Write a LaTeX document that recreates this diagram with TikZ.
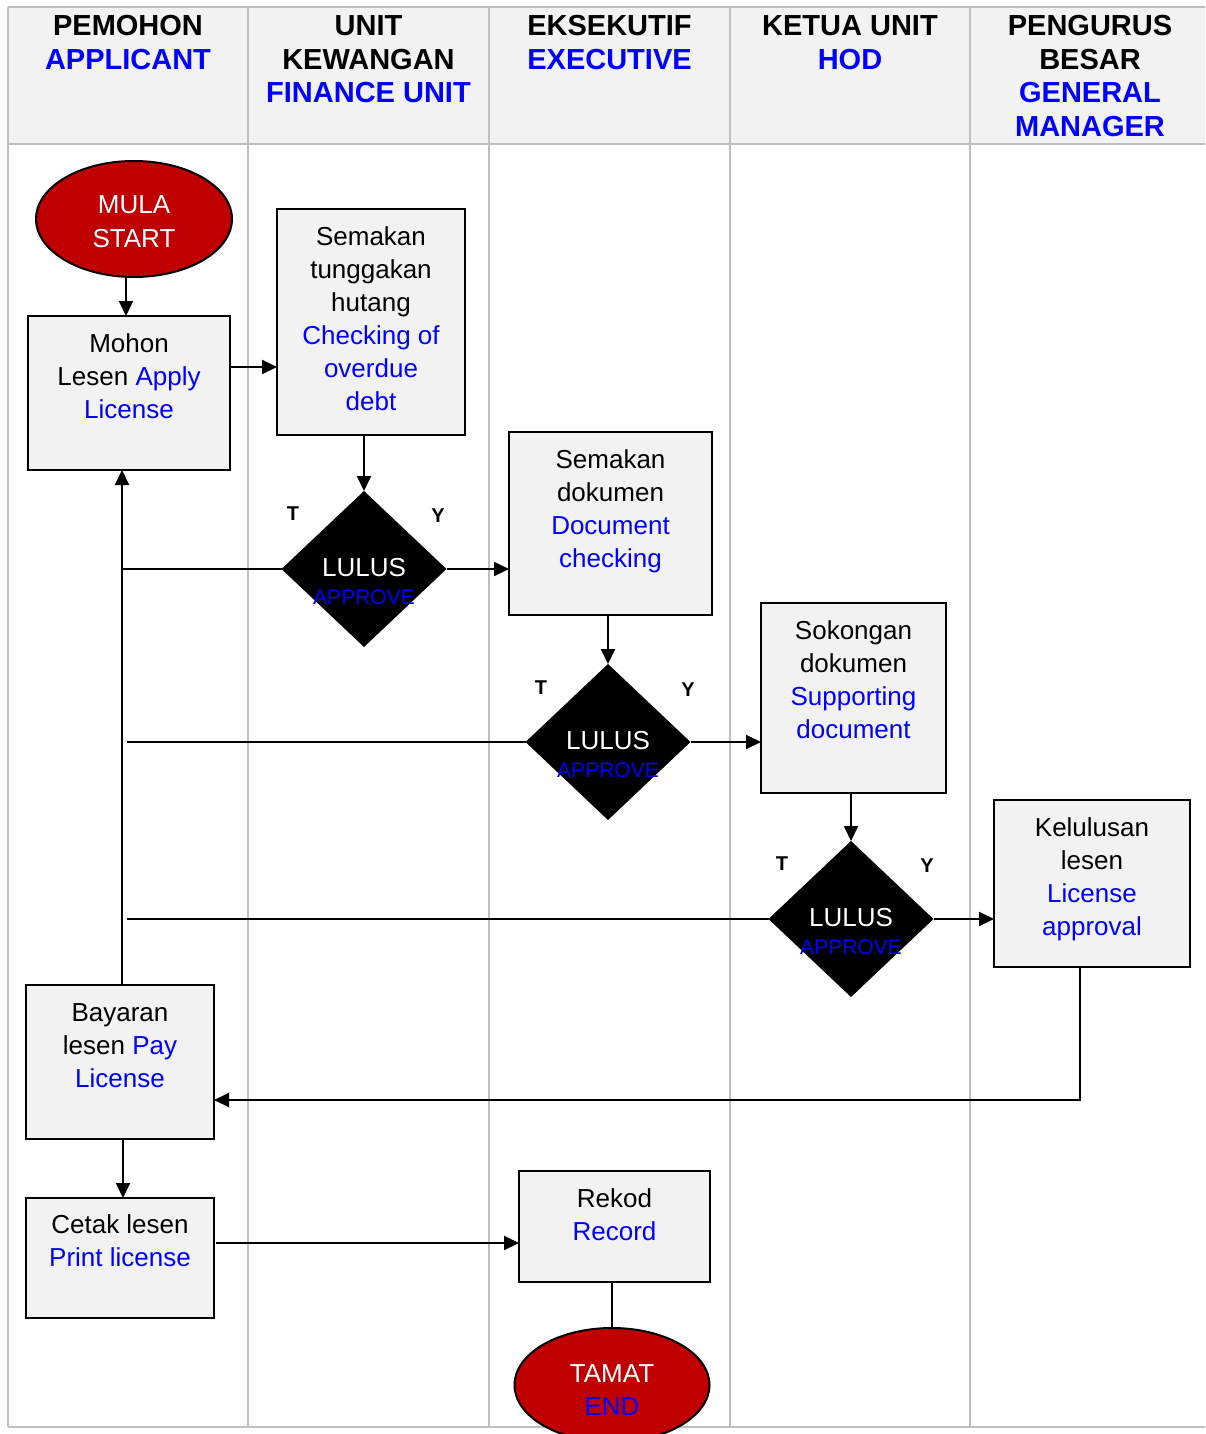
\documentclass[tikz,border=0pt]{standalone}
\usepackage{fontspec}
\setmainfont{Liberation Sans}
\usetikzlibrary{shapes.geometric,arrows.meta}
\definecolor{myblue}{RGB}{0,0,255}
\definecolor{headgray}{RGB}{242,242,242}
\definecolor{gridgray}{RGB}{191,191,191}
\definecolor{boxgray}{RGB}{242,242,242}
\definecolor{termred}{RGB}{192,0,0}
\newcommand{\mylines}[1]{\begin{tabular}[t]{@{}c@{}}#1\end{tabular}}
\newcommand{\bl}[1]{\textcolor{myblue}{#1}}
\begin{document}
\begin{tikzpicture}[x=1pt,y=-1pt,
  grid/.style={draw=gridgray,line width=2pt},
  box/.style={draw=black,line width=1.8pt,fill=boxgray,rectangle,inner sep=0pt,outer sep=0pt},
  txt/.style={anchor=base,inner sep=0pt,font=\fontsize{26}{33}\selectfont},
  head/.style={anchor=base,inner sep=0pt,font=\bfseries\fontsize{29}{33.5}\selectfont},
  dia/.style={diamond,fill=black,inner sep=0pt,outer sep=0pt,minimum width=165pt,minimum height=156pt},
  diatxt/.style={anchor=base,inner sep=0pt,font=\fontsize{26}{28}\selectfont,text=white},
  term/.style={ellipse,draw=black,line width=2pt,fill=termred,inner sep=0pt,outer sep=0pt},
  termtxt/.style={anchor=base,inner sep=0pt,font=\fontsize{26}{33}\selectfont,text=white},
  tytxt/.style={inner sep=0pt,font=\bfseries\fontsize{20}{24}\selectfont},
  arr/.style={line width=2pt,-{Triangle[length=15pt,width=14pt]}},
  ln/.style={line width=2pt}]
\useasboundingbox (0,0) rectangle (1205,1434);
\clip (0,0) rectangle (1205,1434);
% table
\fill[headgray] (8,7) rectangle (1212,144);
\draw[grid] (8,7) -- (1212,7);
\draw[grid] (8,144) -- (1212,144);
\draw[grid] (8,1427) -- (1212,1427);
\foreach \xx in {8,248,489,730,970} {\draw[grid] (\xx,7) -- (\xx,1427);}
% headers
\node[head] (h1) at (128,36) {\mylines{PEMOHON\\\bl{APPLICANT}}};
\node[head] (h2) at (368.5,36) {\mylines{UNIT\\KEWANGAN\\\bl{FINANCE UNIT}}};
\node[head] (h3) at (609.5,36) {\mylines{EKSEKUTIF\\\bl{EXECUTIVE}}};
\node[head] (h4) at (850,36) {\mylines{KETUA UNIT\\\bl{HOD}}};
\node[head] (h5) at (1090,36) {\mylines{PENGURUS\\BESAR\\\bl{GENERAL}\\\bl{MANAGER}}};
% start
\node[term,minimum width=196pt,minimum height=116pt] (start) at (134,219) {};
\node[termtxt] (starttxt) at ([yshift=5pt]start.center) {\mylines{MULA\\START}};
% boxes
\node[box,minimum width=202pt,minimum height=154pt] (mohon) at (129,393) {};
\node[txt] (mohontxt) at ([yshift=-36pt]mohon.north) {\mylines{Mohon\\Lesen \bl{Apply}\\\bl{License}}};
\node[box,minimum width=188pt,minimum height=226pt] (semak) at (371,322) {};
\node[txt] (semaktxt) at ([yshift=-36pt]semak.north) {\mylines{Semakan\\tunggakan\\hutang\\\bl{Checking of}\\\bl{overdue}\\\bl{debt}}};
\node[box,minimum width=203pt,minimum height=183pt] (doc) at (610.5,523.5) {};
\node[txt] (doctxt) at ([yshift=-36pt]doc.north) {\mylines{Semakan\\dokumen\\\bl{Document}\\\bl{checking}}};
\node[box,minimum width=185pt,minimum height=190pt] (supp) at (853.5,698) {};
\node[txt] (supptxt) at ([yshift=-36pt]supp.north) {\mylines{Sokongan\\dokumen\\\bl{Supporting}\\\bl{document}}};
\node[box,minimum width=196pt,minimum height=167pt] (appr) at (1092,883.5) {};
\node[txt] (apprtxt) at ([yshift=-36pt]appr.north) {\mylines{Kelulusan\\lesen\\\bl{License}\\\bl{approval}}};
\node[box,minimum width=188pt,minimum height=154pt] (bayar) at (120,1062) {};
\node[txt] (bayartxt) at ([yshift=-36pt]bayar.north) {\mylines{Bayaran\\lesen \bl{Pay}\\\bl{License}}};
\node[box,minimum width=188pt,minimum height=120pt] (cetak) at (120,1258) {};
\node[txt] (cetaktxt) at ([yshift=-35pt]cetak.north) {\mylines{Cetak lesen\\\bl{Print license}}};
\node[box,minimum width=191pt,minimum height=111pt] (rekod) at (614.5,1226.5) {};
\node[txt] (rekodtxt) at ([yshift=-36pt]rekod.north) {\mylines{Rekod\\\bl{Record}}};
% diamonds
\node[dia] (d1) at (364,569) {};
\node[diatxt] (d1txt) at ([yshift=-7pt]d1.center) {\mylines{LULUS\\{\fontsize{21}{24}\selectfont\bl{APPROVE}}}};
\node[dia] (d2) at (608,742) {};
\node[diatxt] (d2txt) at ([yshift=-7pt]d2.center) {\mylines{LULUS\\{\fontsize{21}{24}\selectfont\bl{APPROVE}}}};
\node[dia] (d3) at (851,919) {};
\node[diatxt] (d3txt) at ([yshift=-7pt]d3.center) {\mylines{LULUS\\{\fontsize{21}{24}\selectfont\bl{APPROVE}}}};
\node[tytxt] (t1) at (293,514) {T};
\node[tytxt] (y1) at (438,516) {Y};
\node[tytxt] (t2) at (541,688) {T};
\node[tytxt] (y2) at (688,690) {Y};
\node[tytxt] (t3) at (782,864) {T};
\node[tytxt] (y3) at (927,866) {Y};
% end
\node[term,minimum width=195pt,minimum height=114pt] (tamat) at (612,1385) {};
\node[termtxt] (tamattxt) at ([yshift=3pt]tamat.center) {\mylines{TAMAT\\\bl{END}}};
% connectors
\draw[arr] ([xshift=-8pt]start.south) -- ([xshift=-3pt]mohon.north);
\draw[arr] ([yshift=26pt]mohon.east) coordinate (a1) -- (a1 -| semak.west);
\draw[arr] (d1.north |- semak.south) -- (d1.north);
\draw[arr] (d1.east) -- (d1.east -| doc.west);
\coordinate (vup) at ([xshift=2pt]bayar.north);
\coordinate (vgap) at ([xshift=5pt]vup);
\draw[arr] (vup) -- (vup |- mohon.south);
\draw[ln] (d1.west) -- (d1.west -| vup);
\draw[arr] (d2.north |- doc.south) -- (d2.north);
\draw[arr] (d2.east) -- (d2.east -| supp.west);
\draw[ln] (d2.west) -- (d2.west -| vgap);
\draw[arr] (d3.north |- supp.south) -- (d3.north);
\draw[arr] (d3.east) -- (d3.east -| appr.west);
\draw[ln] (d3.west) -- (d3.west -| vgap);
\draw[arr] ([xshift=-12pt]appr.south) |- ([yshift=-38pt]bayar.east);
\draw[arr] ([xshift=3pt]bayar.south) -- ([xshift=3pt]cetak.north);
\draw[arr] ([xshift=2pt,yshift=15pt]cetak.east) coordinate (a2) -- (a2 -| rekod.west);
\draw[ln] (tamat.north |- rekod.south) -- (tamat.north);
\end{tikzpicture}
\end{document}
